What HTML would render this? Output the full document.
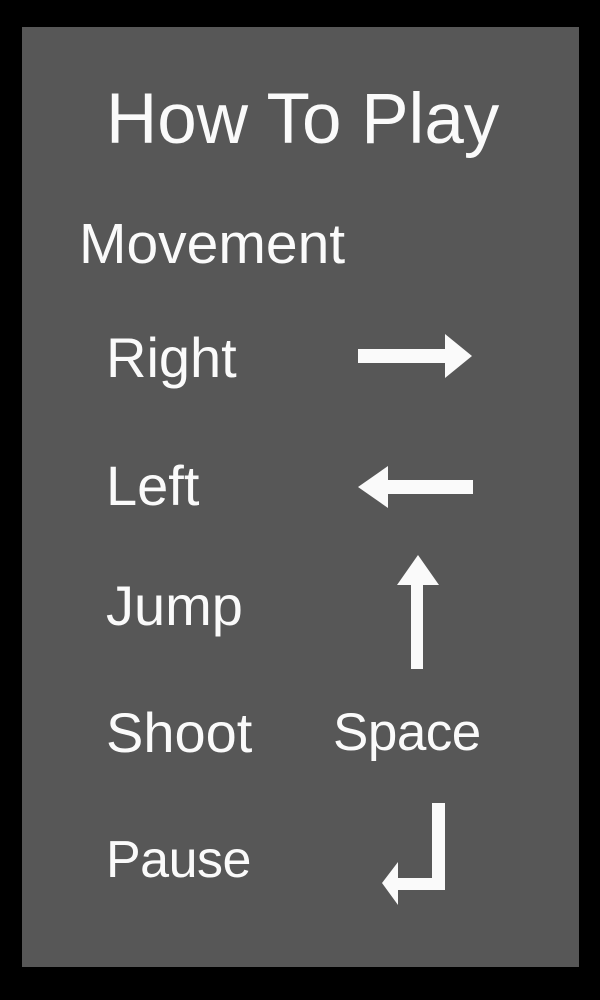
<!DOCTYPE html>
<html><head><meta charset="utf-8"><style>
html,body{margin:0;padding:0;background:#000;}
body{width:600px;height:1000px;position:relative;overflow:hidden;font-family:"Liberation Sans",sans-serif;color:#fafafa;}
#panel{position:absolute;left:22px;top:27px;width:557px;height:940px;background:#575757;}
.t{position:absolute;white-space:nowrap;line-height:1;}
svg{position:absolute;left:0;top:0;}
</style></head><body>
<div id="panel"></div>
<div class="t" style="left:106px;top:84px;font-size:71px;">How To Play</div>
<div class="t" style="left:79px;top:216px;font-size:57px;">Movement</div>
<div class="t" style="left:106px;top:330px;font-size:56px;">Right</div>
<div class="t" style="left:106px;top:458px;font-size:56px;">Left</div>
<div class="t" style="left:106px;top:578px;font-size:56px;">Jump</div>
<div class="t" style="left:106px;top:705px;font-size:56px;">Shoot</div>
<div class="t" style="left:333px;top:706px;font-size:53px;letter-spacing:-0.5px;">Space</div>
<div class="t" style="left:106px;top:834px;font-size:52px;letter-spacing:-0.5px;">Pause</div>
<svg width="600" height="1000">
<polygon fill="#fafafa" points="358,349 445,349 445,334 472,356 445,378 445,363 358,363"/>
<polygon fill="#fafafa" points="473,480 388,480 388,466 358,487 388,508 388,494 473,494"/>
<polygon fill="#fafafa" points="411,669 411,585 397,585 418,555 439,585 423,585 423,669"/>
<polygon fill="#fafafa" points="432,803 445,803 445,890 398,890 398,905 382,883 398,862 398,878 432,878"/>
</svg>
</body></html>
